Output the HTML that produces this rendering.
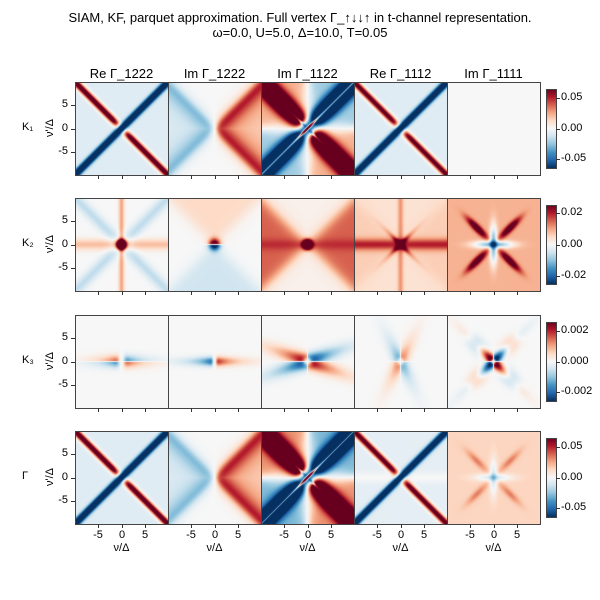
<!DOCTYPE html>
<html><head><meta charset="utf-8"><style>
body{margin:0;background:#fff;width:600px;height:600px;overflow:hidden;font-family:"Liberation Sans",sans-serif}
#root{position:relative;width:600px;height:600px}
.t{position:absolute;font-size:11px;color:#000;white-space:nowrap}
canvas{position:absolute}
.ttl{position:absolute;font-size:13px;text-align:center;width:600px;left:0}
</style></head><body><div id="root">
<div class="ttl" style="top:10px">SIAM, KF, parquet approximation. Full vertex Γ_↑↓↓↑ in t-channel representation.</div>
<div class="ttl" style="top:25px">ω=0.0, U=5.0, Δ=10.0, T=0.05</div>
</div>
<script>
// Panel grid data: rows K1,K2,K3,Γ ; cols Re1222, Im1222, Im1122, Re1112, Im1111
const colTitles=["Re Γ_1222","Im Γ_1222","Im Γ_1122","Re Γ_1112","Im Γ_1111"];
const rowLabels=["K₁","K₂","K₃","Γ"];
const cbTicks=[["0.05","0.00","-0.05"],["0.02","0.00","-0.02"],["0.002","0.000","-0.002"],["0.05","0.00","-0.05"]];
const cbTickValues=[[0.05,0,-0.05],[0.02,0,-0.02],[0.002,0,-0.002],[0.05,0,-0.05]];
const cbMax=[0.065,0.025,0.0026,0.065];
const axisTicks=[-5,0,5];
// feature weights per panel (normalized units, ±1 = colorbar limit)
const wDiag=[[-1.6,0,0,-1.6,0],[0,0,0,0,0],[0,0,0,0,0],[-1.6,0,0,-1.6,0]];
const wAnti=[[1.4,0,0,1.3,0],[0,0,0,0,0],[0,0,0,0,0],[1.4,0,0,1.3,0]];
const wDiagWide=[[0,0,-1.8,0,0],[0,0,0,0,0],[0,0,0,0,0],[0,0,-1.8,0,0]];
const wAntiWide=[[0,0,1.8,0,0],[0,0,0,0,0],[0,0,0,0,0],[0,0,1.9,0,0]];
const wCenterLine=[[0,0,2.0,0,0],[0,0,0,0,0],[0,0,0,0,0],[0,0,2.0,0,0]];
const wQuad=[[0,0,0.35,0,0],[0,0,0,0,0],[0,0,0,0,0],[0,0,0.45,0,0]];
const wWedge=[[0,1.0,0,0,0],[0,0,0,0,0],[0,0,0,0,0],[0,1.0,0,0,0]];
const wHband=[[0,0,0,0,0],[0.3,0,0.15,0.55,0],[0,0,0,0,0],[0,0,0,0.1,0]];
const wVband=[[0,0,0,0,0],[0.4,0,0,0.3,0],[0,0,0,0,0],[0,0,0,0,0]];
const wCenter=[[0,0,0,0,0],[3,0,3,0,0],[0,0,0,0,0],[0,0,0,0,0]];
const wXnear=[[0,0,0,0,0],[0,0,0,1.2,0],[0,0,0,0,0],[0,0,0,0,0]];
const wXfar=[[0,0,0,0,0],[-0.25,0,0,0,0],[0,0,0,0,0],[0,0,0,0,0]];
const wXmid=[[0,0,0,0,0],[0,0,0,0,1.0],[0,0,0,0,0],[0,0,0,0,0.3]];
const wCross=[[0,0,0,0,0],[0,0,0,0,-0.9],[0,0,0,0,0],[0,0,0,0,-0.4]];
const wHour=[[0,0,0,0,0],[0,0,0.55,0.1,0],[0,0,0,0,0],[0,0,0,0,0]];
const wCs=[[0,0,0,0,0],[0,1.2,0,0,0],[0,0,0,0,0],[0,0,0,0,0]];
const wVs=[[0,0,0,0,0],[0,0.2,0,0,0],[0,0,0,0,0],[0,0,0,0,0]];
const wQh=[[0,0,0,0,0],[0,0,0,0,0],[-0.9,0,0,0,0],[0,0,0,0,0]];
const wHs=[[0,0,0,0,0],[0,0,0,0,0],[0,0.9,0,0,0],[0,0,0,0,0]];
const wQw=[[0,0,0,0,0],[0,0,0,0,0],[0,0,-1.2,0,0],[0,0,0,0,0]];
const wQv=[[0,0,0,0,0],[0,0,0,0,0],[0,0,0,0.7,0],[0,0,0,0,0]];
const wQd=[[0,0,0,0,0],[0,0,0,0,0],[0,0,0,0,-1.6],[0,0,0,0,0]];
const wQdf=[[0,0,0,0,0],[0,0,0,0,0],[0,0,0,0,0.5],[0,0,0,0,0]];
const wBg=[[-0.12,0,0,-0.12,0],[0,0,0.05,0.15,0.35],[0,0,0,0,0],[-0.12,0,0,-0.1,0.22]];

const colX0=75,panelW=93,rowY=[82,198,315,431],range=10;
const xScale=v=>colX0+(v+range)/(2*range)*panelW; // relative to column 0
const yScale=(v,r)=>rowY[r]+(range-v)/(2*range)*panelW;
const RdBu=["#053061","#2166ac","#4393c3","#92c5de","#d1e5f0","#f7f7f7","#fddbc7","#f4a582","#d6604d","#b2182b","#67001f"].map(h=>[1,3,5].map(i=>parseInt(h.substr(i,2),16)));
function cmap(v){let t=Math.max(0,Math.min(1,(v+1)/2))*10;let i=Math.min(9,Math.floor(t)),f=t-i;return RdBu[i].map((c,k)=>c+(RdBu[i+1][k]-c)*f);}
const g=(d,w)=>Math.exp(-(d/w)*(d/w));
const sg=z=>1/(1+Math.exp(-z));
function val(r,c,x,y){
 const R=Math.hypot(x,y),sx=Math.sign(x),sy=Math.sign(y),ax=Math.abs(x),ay=Math.abs(y);
 let v=wBg[r][c];
 v+=wDiag[r][c]*g(x-y,1.0);
 v+=wAnti[r][c]*g(x+y,1.0)*(1-g(R,1.6));
 v+=wDiagWide[r][c]*g(x-y,2.6)*(1-g(x-y,0.35))*(1-g(R,1.2)*0.5);
 v+=wAntiWide[r][c]*g(x+y,2.8)*(1-0.6*g(x+y,0.35))*(1-g(R,1.5));
 v+=wCenterLine[r][c]*g(x-y,0.4)*g(R,1.3);
 v+=wQuad[r][c]*Math.tanh(-x*y/12);
 const wf=sg((ax-ay)/0.7)*(0.25+1.1*Math.exp(-(ax-ay)/2.5))*(x>0?1:0.55);
 v+=wWedge[r][c]*Math.tanh(x)*wf;
 v+=wHband[r][c]*g(y,1.2);
 v+=wVband[r][c]*g(x,0.6);
 v+=wCenter[r][c]*g(R,0.9);
 v+=wXnear[r][c]*(g(x-y,0.7)+g(x+y,0.7))*Math.exp(-R/2);
 v+=wXfar[r][c]*(g(x-y,1.8)+g(x+y,1.8))*(1-g(R,2));
 v+=wXmid[r][c]*(g(x-y,1)+g(x+y,1))*g(R-5,3);
 v+=wCross[r][c]*(g(x,0.8)+g(y,0.8))*g(R,4);
 v+=wHour[r][c]*sg((ax-ay)/1);
 v+=wCs[r][c]*sy*g(R,1.2);
 v+=wVs[r][c]*sy*sg(ay-ax);
 v+=wQh[r][c]*sx*sy*g(y,1.3)*Math.exp(-ax/3.5)*(1-g(x,0.8));
 v+=wHs[r][c]*sx*g(y,1.0)*Math.exp(-ax/4)*(1-g(x,0.5));
 v+=wQw[r][c]*sx*sy*g(ay-0.35*ax,1.6)*Math.exp(-R/5)*(1-g(R,1));
 v+=wQv[r][c]*sx*sy*g(ax-0.5*ay,1.6)*Math.exp(-R/3.5)*(1-g(R,0.8));
 v+=wQd[r][c]*sx*sy*g(ax-ay,1.5)*Math.exp(-R/3.5)*(1-g(R,0.6));
 v+=wQdf[r][c]*sx*sy*g(ax-ay,2)*g(R-5,2.5);
 return v;
}
const root=document.getElementById('root');
function txt(s,x,y,extra){const d=document.createElement('div');d.className='t';d.textContent=s;d.style.left=x+'px';d.style.top=y+'px';if(extra)d.style.cssText+=extra;root.appendChild(d);return d;}
function line(x1,y1,x2,y2){const d=document.createElement('div');d.style.cssText=`position:absolute;background:#333;left:${Math.min(x1,x2)}px;top:${Math.min(y1,y2)}px;width:${Math.max(1,Math.abs(x2-x1))}px;height:${Math.max(1,Math.abs(y2-y1))}px`;
root.appendChild(d);}
for(let r=0;r<4;r++){
 for(let c=0;c<5;c++){
  const cv=document.createElement('canvas');cv.width=panelW;cv.height=panelW;
  cv.style.left=(colX0+c*panelW)+'px';cv.style.top=rowY[r]+'px';
  
  
  const ctx=cv.getContext('2d'),im=ctx.createImageData(panelW,panelW);
  for(let j=0;j<panelW;j++)for(let i=0;i<panelW;i++){
   const x=-range+(i+0.5)/panelW*2*range,y=range-(j+0.5)/panelW*2*range;
   const col=cmap(val(r,c,x,y)),k=(j*panelW+i)*4;
   im.data[k]=col[0];im.data[k+1]=col[1];im.data[k+2]=col[2];im.data[k+3]=255;}
  ctx.putImageData(im,0,0);root.appendChild(cv);
  const b=document.createElement('div');b.style.cssText=`position:absolute;left:${colX0+c*panelW}px;top:${rowY[r]}px;width:${panelW-1}px;height:${panelW-1}px;border:1px solid #444`;
  
  root.appendChild(b);
  axisTicks.forEach(t=>{const px=Math.round(xScale(t)+c*panelW);line(px,rowY[r]+panelW,px,rowY[r]+panelW+4);
   if(r===3){const l=txt(String(t),px-15,rowY[r]+panelW+5,'width:30px;text-align:center');}});
  if(r===0){const l=txt(colTitles[c],colX0+c*panelW,66,'width:93px;text-align:center;font-size:13px');}
  if(r===3){const l=txt('ν/Δ',colX0+c*panelW,542,'width:93px;text-align:center');}
 }
 axisTicks.forEach(t=>{const py=Math.round(yScale(t,r));line(71,py,75,py);const l=txt(String(t),40,py-7,'width:28px;text-align:right');});
 const rl=txt(rowLabels[r],22,rowY[r]+39);
 const yl=txt("ν'/Δ",30,rowY[r]+40,'transform:rotate(-90deg);transform-origin:center;width:40px;text-align:center');
 const cbTop=rowY[r]+7,cbH=79;
 const cb=document.createElement('canvas');cb.width=10;cb.height=cbH;cb.style.left='546px';cb.style.top=cbTop+'px';
 
 
 const cx=cb.getContext('2d');for(let j=0;j<cbH;j++){const col=cmap(1-2*(j+0.5)/cbH);cx.fillStyle=`rgb(${col.map(Math.round).join(',')})`;cx.fillRect(0,j,10,1);}
 root.appendChild(cb);
 const bf=document.createElement('div');bf.style.cssText=`position:absolute;left:546px;top:${cbTop}px;width:9px;height:${cbH-1}px;border:1px solid #444`;
 root.appendChild(bf);
 cbTickValues[r].forEach((tv,i)=>{const py=Math.round(cbTop+cbH/2-tv/cbMax[r]*cbH/2);line(556,py,560,py);const l=txt(cbTicks[r][i],561,py-7);});
}
</script></body></html>
